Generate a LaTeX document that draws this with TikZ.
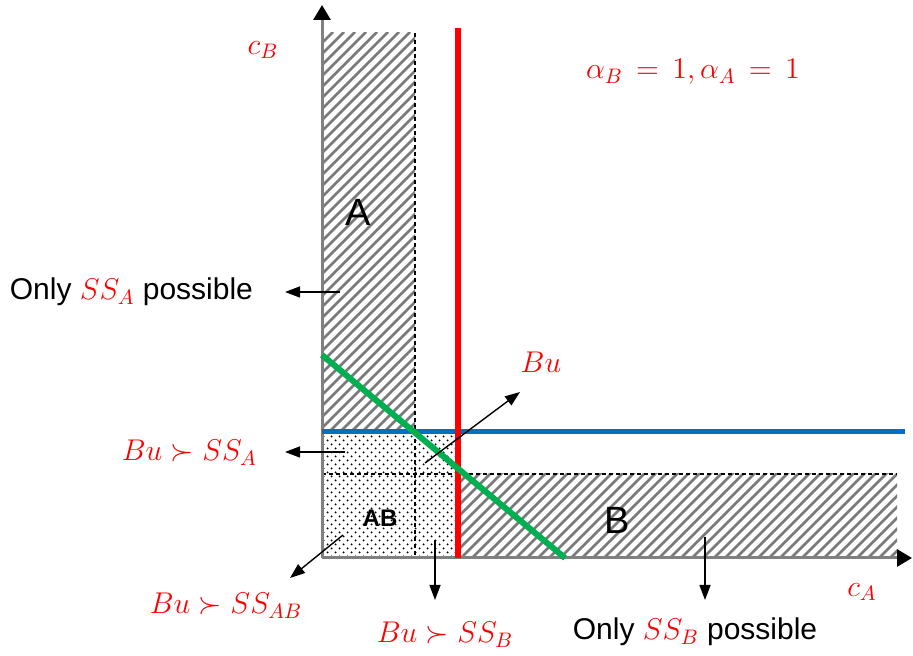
\RequirePackage{fix-cm}
\documentclass[tikz,border=0pt]{standalone}
\usepackage[no-math]{fontspec}
\setmainfont{Liberation Sans}
\usepackage{amssymb}
\usepackage{xcolor}
\definecolor{linered}{HTML}{FF0000}
\definecolor{lineblue}{HTML}{0070C0}
\definecolor{linegreen}{HTML}{00B050}
\definecolor{axisgray}{HTML}{808080}
\definecolor{hatchgray}{HTML}{7A7A7A}
\usetikzlibrary{arrows.meta, patterns.meta}

\begin{document}
\begin{tikzpicture}[
		x=0.5pt, y=0.5pt,
		axis/.style={draw=axisgray, line width=1.5pt, -{Triangle[length=7.5pt, width=8.5pt, color=black]}},
		border/.style={draw=black, line width=0.75pt, dash pattern=on 2pt off 1.5pt},
		hatch/.style={draw=hatchgray, line width=1.4pt},
		dotfill/.style={pattern={Dots[radius=0.6pt, distance=4pt]}, pattern color=black},
		dotshift/.style={pattern={Dots[radius=0.6pt, distance=4pt, xshift=2pt, yshift=2pt]}, pattern color=black},
		pointer/.style={-{Triangle[length=7.5pt, width=5.5pt]}, line width=0.7pt},
		mlabel/.style={text=linered, font=\fontsize{15}{18}\selectfont},
		tlabel/.style={font=\fontsize{15}{18}\selectfont},
		region/.style={font=\fontsize{19}{22}\selectfont},
		]
		\useasboundingbox (-322,-98) rectangle (591,558);
		\coordinate (O) at (0,0);
		
		% regions
		\begin{scope}
			\clip (0,126) rectangle (93,525);
			\foreach \i in {-400,-389,...,93}
				\draw[hatch] (\i,126) -- ++(400,400);
		\end{scope}
		\begin{scope}
			\clip (136,0) rectangle (575,84);
			\foreach \i in {40,51,...,580}
				\draw[hatch] (\i,0) -- ++(90,90);
		\end{scope}
		\path[dotfill] (O) rectangle (136,126);
		\path[dotshift] (O) rectangle (136,126);
		\draw[border] (93,525) -- (93,0);
		\draw[border] (0,84) -- (575,84);
		
		% axes and curves
		\draw[axis] (O) -- (0,553);
		\draw[axis] (O) -- (590,0);
		\draw[lineblue, line width=2.5pt] (0,126) -- (583,126);
		\draw[linered, line width=3pt] (136,0) -- (136,530);
		\draw[linegreen, line width=3pt] (0,203) -- (243,0);
		
		\node[mlabel] (cb) at (-59,508) {$c_B$};
		\node[mlabel] (ca) at (540,-34) {$c_A$};
		\node[mlabel] (alpha) at (371,486) {$\alpha_B\,=\,1, \alpha_A\,=\,1$};
		\node[region] (ra) at (36,346) {A};
		\node[region] (rb) at (295,38) {B};
		\node[font=\fontsize{12}{14}\selectfont\bfseries] (rab) at (58,40) {AB};
		
		% pointers
		\node[tlabel, anchor=east] (onlya) at (-62,266) {Only \textcolor{linered}{$SS_A$} possible};
		\node[mlabel, anchor=east] (bua) at (-58,105) {$Bu\succ SS_A$};
		\node[mlabel] (buab) at (-96,-48) {$Bu\succ SS_{AB}$};
		\node[mlabel] (bub) at (123,-77) {$Bu\succ SS_B$};
		\node[tlabel] (onlyb) at (373,-74) {Only \textcolor{linered}{$SS_B$} possible};
		\node[mlabel] (bu) at (219,196) {$Bu$};
		
		\coordinate (ta) at (18,266);   \coordinate (ha) at (-37,266);
		\coordinate (tba) at (23,106);  \coordinate (hba) at (-37,106);
		\coordinate (tab) at (21,23);   \coordinate (hab) at (-32,-20);
		\coordinate (tbb) at (113,18);  \coordinate (hbb) at (113,-42);
		\coordinate (tb) at (383,21);   \coordinate (hb) at (383,-42);
		\coordinate (tbu) at (103,95);  \coordinate (hbu) at (198,166);
		\draw[pointer] (ta) -- (ha);
		\draw[pointer] (tba) -- (hba);
		\draw[pointer] (tab) -- (hab);
		\draw[pointer] (tbb) -- (hbb);
		\draw[pointer] (tb) -- (hb);
		\draw[pointer] (tbu) -- (hbu);
	\end{tikzpicture}
\end{document}
